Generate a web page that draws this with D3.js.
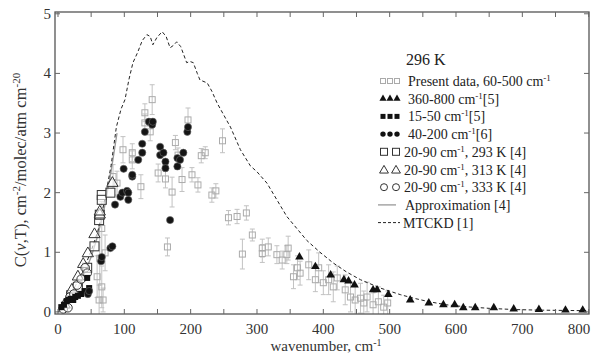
<!DOCTYPE html>
<html>
<head>
<meta charset="utf-8">
<script src="https://cdn.jsdelivr.net/npm/d3@7"></script>
<style>
  body { margin: 0; background: #fff; }
  svg { font-family: "Liberation Serif", "Times New Roman", serif; }
</style>
</head>
<body>
<figure id="chart" style="margin:0"></figure>
<script>
// --- data ---
const xTicks = [0, 100, 200, 300, 400, 500, 600, 700, 800];
const yTicks = [0, 1, 2, 3, 4, 5];

// present data, 60-500 cm-1 (gray open squares with error bars)
const presentX = [59, 62, 63, 66, 66, 68, 71, 83, 89, 98, 112, 112, 125, 131, 131, 139, 142, 151, 162, 165, 172, 177, 181, 187, 196, 202, 211, 216, 222, 232, 238, 248, 257, 270, 278, 284, 293, 308, 308, 317, 330, 338, 345, 347, 355, 361, 365, 378, 388, 393, 400, 408, 415, 421, 433, 441, 448, 456, 461, 466, 475, 483, 491, 497];
const presentY = [0.59, 0.2, 0.9, 1.4, 0.42, 0.2, 0.99, 2.27, 2.16, 2.72, 2.67, 2.55, 2.1, 3.34, 3.17, 3.02, 3.56, 2.33, 2.23, 1.09, 2.01, 2.84, 2.63, 2.22, 3.22, 2.3, 2.13, 2.62, 2.67, 1.96, 2.03, 2.87, 1.58, 1.6, 0.97, 1.66, 1.29, 1.07, 0.98, 1.09, 0.96, 0.87, 0.96, 1.07, 0.59, 0.74, 0.65, 0.79, 0.54, 0.74, 0.49, 0.54, 0.42, 0.57, 0.37, 0.25, 0.2, 0.23, 0.15, 0.25, 0.12, 0.17, 0.08, 0.15];
const presentErr = [0.35, 0.25, 0.45, 0.45, 0.35, 0.2, 0.3, 0.2, 0.2, 0.22, 0.15, 0.15, 0.2, 0.15, 0.15, 0.15, 0.25, 0.15, 0.15, 0.15, 0.25, 0.12, 0.12, 0.2, 0.2, 0.12, 0.12, 0.12, 0.1, 0.12, 0.12, 0.2, 0.12, 0.12, 0.25, 0.12, 0.1, 0.15, 0.15, 0.15, 0.15, 0.15, 0.15, 0.2, 0.2, 0.2, 0.2, 0.25, 0.2, 0.25, 0.2, 0.25, 0.25, 0.2, 0.25, 0.25, 0.25, 0.25, 0.2, 0.25, 0.2, 0.25, 0.2, 0.2];

// 360-800 cm-1 [5] (filled triangles)
const triX = [364, 388, 411, 431, 438, 447, 475, 481, 498, 531, 559, 581, 598, 611, 629, 657, 687, 725, 765, 791];
const triY = [0.92, 0.76, 0.62, 0.54, 0.52, 0.45, 0.37, 0.37, 0.29, 0.2, 0.15, 0.12, 0.12, 0.07, 0.07, 0.07, 0.05, 0.04, 0.03, 0.03];

// 15-50 cm-1 [5] (filled squares)
const sqX = [5, 9, 13, 16, 19, 23, 26, 30, 35, 40, 44, 47];
const sqY = [0.08, 0.12, 0.18, 0.2, 0.22, 0.2, 0.25, 0.27, 0.3, 0.35, 0.57, 0.4];

// 40-200 cm-1 [6] (filled circles)
const circX = [45, 47, 65, 66, 79, 82, 86, 94, 97, 99, 104, 106, 106, 112, 112, 121, 127, 127, 131, 137, 142, 143, 154, 154, 159, 162, 162, 169, 180, 180, 184, 189, 195, 196];
const circY = [0.3, 0.35, 0.85, 0.92, 1.07, 1.1, 1.8, 1.93, 2.0, 2.4, 2.03, 2.0, 1.88, 2.27, 2.3, 2.55, 2.67, 2.82, 3.02, 3.19, 3.14, 3.19, 2.77, 2.63, 2.67, 2.52, 2.41, 1.54, 2.44, 2.58, 2.55, 2.67, 3.02, 3.1];

// 20-90 cm-1 [4] at three temperatures (open markers)
const t293X = [20, 30, 44, 55, 62, 63, 66, 66, 79];
const t293Y = [0.28, 0.42, 0.74, 1.1, 1.54, 1.63, 1.96, 1.88, 2.0];
const t313X = [10, 21, 30, 38, 45, 55, 63, 63, 82];
const t313Y = [0.12, 0.37, 0.59, 0.8, 0.98, 1.3, 1.63, 1.68, 2.16];
const t333X = [8, 15, 18, 24, 29, 35, 41, 44];
const t333Y = [0.05, 0.07, 0.25, 0.3, 0.45, 0.55, 0.74, 0.65];

// Approximation [4]
const approxX = [0, 10, 20, 30, 40, 50, 60, 70, 80, 89];
const approxY = [0, 0.07, 0.2, 0.4, 0.65, 0.92, 1.28, 1.75, 2.35, 3.0];

// MTCKD [1]
const mtckdX = [0, 10, 20, 30, 40, 50, 60, 70, 80, 88, 95, 101, 107, 113, 120, 127, 134, 139, 143, 149, 157, 163, 169, 174, 179, 185, 194, 199, 204, 210, 214, 225, 232, 240, 250, 260, 275, 290, 300, 315, 330, 345, 360, 375, 395, 415, 435, 456, 486, 516, 536, 560, 585, 611, 650, 687, 725, 800];
const mtckdY = [0, 0.12, 0.3, 0.52, 0.75, 1.02, 1.35, 1.85, 2.45, 3.1, 3.4, 3.56, 3.9, 4.18, 4.35, 4.55, 4.65, 4.62, 4.48, 4.6, 4.7, 4.62, 4.43, 4.47, 4.53, 4.45, 4.18, 4.2, 4.18, 4.0, 3.89, 3.84, 3.7, 3.5, 3.3, 3.1, 2.72, 2.45, 2.35, 2.16, 1.88, 1.6, 1.4, 1.2, 1.0, 0.82, 0.67, 0.54, 0.4, 0.29, 0.23, 0.17, 0.12, 0.09, 0.06, 0.04, 0.03, 0.02];

// --- drawing ---
const width = 591, height = 356;
const mLeft = 55, mRight = 589, mTop = 12, mBottom = 314;

const svg = d3.select("#chart").append("svg")
  .attr("width", width).attr("height", height);

const x = d3.scaleLinear().domain([-4.5, 800.5]).range([mLeft, mRight]);
const y = d3.scaleLinear().domain([-0.035, 5.03]).range([mBottom, mTop]);

const zip = (xs, ys) => xs.map((v, i) => ({ x: v, y: ys[i], i: i }));

svg.append("defs").append("clipPath").attr("id", "clip")
  .append("rect").attr("x", mLeft).attr("y", mTop).attr("width", mRight - mLeft).attr("height", mBottom - mTop);
const plot = svg.append("g").attr("clip-path", "url(#clip)");

// present data error bars + squares
const present = zip(presentX, presentY);
const eb = plot.append("g").attr("stroke", "#c2c2c2").attr("stroke-width", 1);
present.forEach(d => {
  const e = presentErr[d.i];
  const px = x(d.x);
  eb.append("line").attr("x1", px).attr("x2", px).attr("y1", y(d.y - e)).attr("y2", y(d.y + e));
  eb.append("line").attr("x1", px - 2.5).attr("x2", px + 2.5).attr("y1", y(d.y - e)).attr("y2", y(d.y - e));
  eb.append("line").attr("x1", px - 2.5).attr("x2", px + 2.5).attr("y1", y(d.y + e)).attr("y2", y(d.y + e));
});
plot.append("g").selectAll("rect").data(present).enter().append("rect")
  .attr("x", d => x(d.x) - 3).attr("y", d => y(d.y) - 3)
  .attr("width", 6).attr("height", 6)
  .attr("fill", "none").attr("stroke", "#ababab").attr("stroke-width", 1);

// MTCKD & approximation lines
const line = d3.line().x(d => x(d.x)).y(d => y(d.y));
plot.append("path").datum(zip(approxX, approxY)).attr("d", line)
  .attr("fill", "none").attr("stroke", "#999").attr("stroke-width", 1.3);
plot.append("path").datum(zip(mtckdX, mtckdY)).attr("d", line)
  .attr("fill", "none").attr("stroke", "#222").attr("stroke-width", 1).attr("stroke-dasharray", "3.5,2.5");

const tri = d3.symbol().type(d3.symbolTriangle);

// open markers
plot.append("g").selectAll("rect").data(zip(t293X, t293Y)).enter().append("rect")
  .attr("x", d => x(d.x) - 4.5).attr("y", d => y(d.y) - 4.5).attr("width", 9).attr("height", 9)
  .attr("fill", "#fff").attr("fill-opacity", 0.6).attr("stroke", "#333").attr("stroke-width", 1);
plot.append("g").selectAll("path").data(zip(t313X, t313Y)).enter().append("path")
  .attr("d", tri.size(55)()).attr("transform", d => `translate(${x(d.x)},${y(d.y)})`)
  .attr("fill", "#fff").attr("fill-opacity", 0.6).attr("stroke", "#333").attr("stroke-width", 1);
plot.append("g").selectAll("circle").data(zip(t333X, t333Y)).enter().append("circle")
  .attr("cx", d => x(d.x)).attr("cy", d => y(d.y)).attr("r", 4.3)
  .attr("fill", "#fff").attr("fill-opacity", 0.6).attr("stroke", "#333").attr("stroke-width", 1);

// filled markers
plot.append("g").selectAll("rect").data(zip(sqX, sqY)).enter().append("rect")
  .attr("x", d => x(d.x) - 3).attr("y", d => y(d.y) - 3).attr("width", 6).attr("height", 6)
  .attr("fill", "#111");
plot.append("g").selectAll("circle").data(zip(circX, circY)).enter().append("circle")
  .attr("cx", d => x(d.x)).attr("cy", d => y(d.y)).attr("r", 3.6)
  .attr("fill", "#151515").attr("stroke", "#666").attr("stroke-width", 0.6);
plot.append("g").selectAll("path").data(zip(triX, triY)).enter().append("path")
  .attr("d", tri.size(32)()).attr("transform", d => `translate(${x(d.x)},${y(d.y)})`)
  .attr("fill", "#111");

// frame and ticks
svg.append("rect").attr("x", mLeft).attr("y", mTop).attr("width", mRight - mLeft).attr("height", mBottom - mTop)
  .attr("fill", "none").attr("stroke", "#555").attr("stroke-width", 1.3);

const minor = d3.range(0, 801, 50);
const tk = svg.append("g").attr("stroke", "#666").attr("stroke-width", 1);
minor.forEach(v => {
  tk.append("line").attr("x1", x(v)).attr("x2", x(v)).attr("y1", mBottom).attr("y2", mBottom - 5);
  tk.append("line").attr("x1", x(v)).attr("x2", x(v)).attr("y1", mTop).attr("y2", mTop + 5);
});
yTicks.forEach(v => {
  tk.append("line").attr("x1", mLeft).attr("x2", mLeft + 5).attr("y1", y(v)).attr("y2", y(v));
  tk.append("line").attr("x1", mRight).attr("x2", mRight - 5).attr("y1", y(v)).attr("y2", y(v));
});

svg.append("g").selectAll("text").data(xTicks).enter().append("text")
  .attr("x", d => Math.min(x(d), 579)).attr("y", 334).attr("text-anchor", "middle")
  .attr("font-size", 15).attr("fill", "#333").text(d => d);
svg.append("g").selectAll("text").data(yTicks).enter().append("text")
  .attr("x", 51).attr("y", d => y(d) + 5).attr("text-anchor", "end")
  .attr("font-size", 15).attr("fill", "#333").text(d => d);

// axis titles
const xt = svg.append("text").attr("x", 326).attr("y", 351).attr("text-anchor", "middle")
  .attr("font-size", 15).attr("fill", "#333");
xt.append("tspan").text("wavenumber, cm");
xt.append("tspan").attr("dy", -5).attr("font-size", 10).text("-1");

const yt = svg.append("text").attr("transform", "translate(26,170) rotate(-90)")
  .attr("text-anchor", "middle").attr("font-size", 16.5).attr("fill", "#333");
yt.append("tspan").text("C(");
yt.append("tspan").attr("font-style", "italic").text("ν");
yt.append("tspan").text(",T), cm");
yt.append("tspan").attr("dy", -6).attr("font-size", 11).text("-2");
yt.append("tspan").attr("dy", 6).text("/molec/atm cm");
yt.append("tspan").attr("dy", -6).attr("font-size", 11).text("-20");

// legend
const lg = svg.append("g").attr("font-size", 14).attr("fill", "#222");
lg.append("text").attr("x", 406).attr("y", 65).attr("font-size", 16).text("296 K");
const rowY = i => 81 + 17.7 * i;
const labels = [
  ["Present data, 60-500 cm", "-1", ""],
  ["360-800 cm", "-1", "[5]"],
  ["15-50 cm", "-1", "[5]"],
  ["40-200 cm", "-1", "[6]"],
  ["20-90 cm", "-1", ", 293 K [4]"],
  ["20-90 cm", "-1", ", 313 K [4]"],
  ["20-90 cm", "-1", ", 333 K [4]"],
  ["Approximation [4]", "", ""],
  ["MTCKD [1]", "", ""]
];
const textX = [408, 408, 408, 408, 404, 404, 404, 405, 403];
labels.forEach((l, i) => {
  const t = lg.append("text").attr("x", textX[i]).attr("y", rowY(i) + 5);
  t.append("tspan").text(l[0]);
  if (l[1]) t.append("tspan").attr("dy", -5).attr("font-size", 9).text(l[1]);
  if (l[2]) t.append("tspan").attr("dy", 5).text(l[2]);
});
const sym = svg.append("g");
[383, 390, 397].forEach(px => {
  sym.append("rect").attr("x", px - 2.5).attr("y", rowY(0) - 2.5).attr("width", 5).attr("height", 5)
    .attr("fill", "none").attr("stroke", "#aaa");
  sym.append("path").attr("d", tri.size(22)()).attr("transform", `translate(${px},${rowY(1)})`).attr("fill", "#111");
  sym.append("rect").attr("x", px - 2.5).attr("y", rowY(2) - 2.5).attr("width", 5).attr("height", 5).attr("fill", "#111");
  sym.append("circle").attr("cx", px).attr("cy", rowY(3)).attr("r", 2.7).attr("fill", "#111");
});
[384, 396].forEach(px => {
  sym.append("rect").attr("x", px - 3.5).attr("y", rowY(4) - 3.5).attr("width", 7).attr("height", 7)
    .attr("fill", "none").attr("stroke", "#333");
  sym.append("path").attr("d", tri.size(34)()).attr("transform", `translate(${px},${rowY(5) + 1})`)
    .attr("fill", "none").attr("stroke", "#333");
  sym.append("circle").attr("cx", px).attr("cy", rowY(6)).attr("r", 3.5).attr("fill", "none").attr("stroke", "#333");
});
sym.append("line").attr("x1", 378).attr("x2", 396).attr("y1", rowY(7)).attr("y2", rowY(7))
  .attr("stroke", "#999").attr("stroke-width", 1.3);
sym.append("line").attr("x1", 378).attr("x2", 400).attr("y1", rowY(8)).attr("y2", rowY(8))
  .attr("stroke", "#222").attr("stroke-dasharray", "3,2");
</script>
</body>
</html>
